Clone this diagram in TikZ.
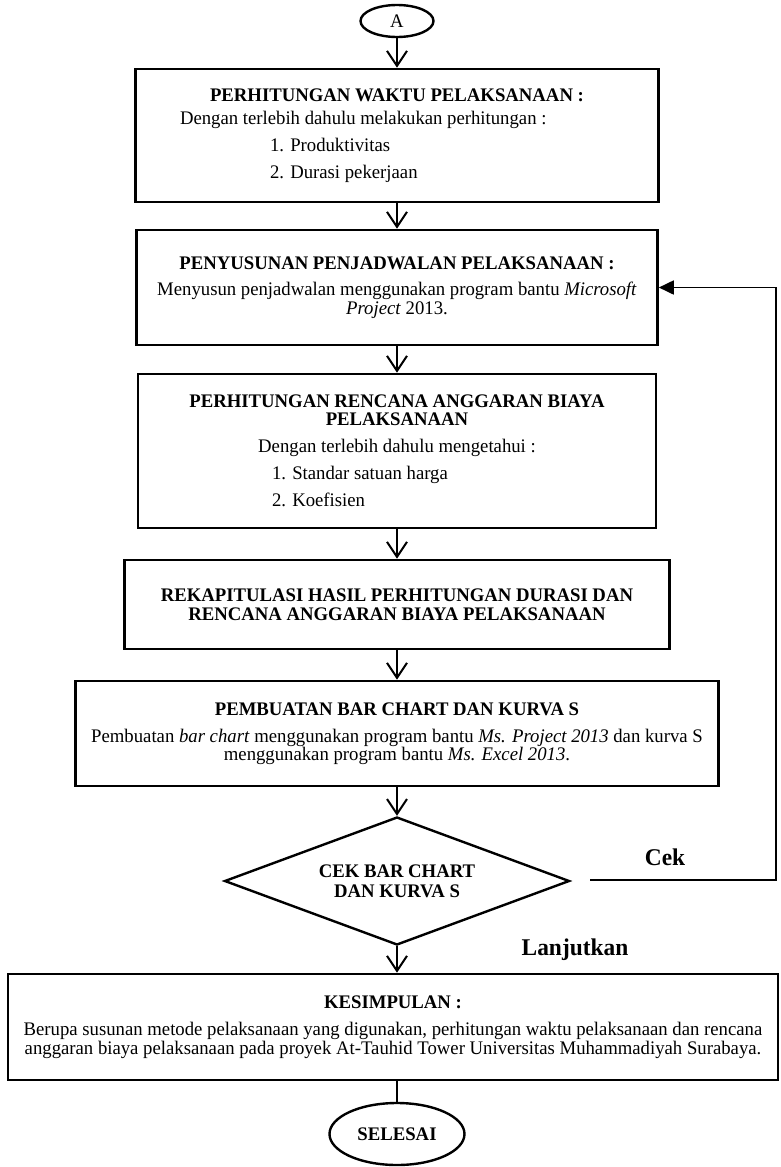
\documentclass[tikz,border=0pt]{standalone}
\usepackage{fontspec}
\setmainfont[FakeStretch=0.975]{Liberation Serif}
\usetikzlibrary{shapes.geometric,arrows.meta}

\begin{document}
\begin{tikzpicture}[x=1pt,y=-1pt,
    every node/.style={font=\fontsize{19.2}{18.5}\selectfont},
    boite/.style={draw, line width=2.6pt, align=center, inner sep=0pt,
      execute at begin node=\rule{0pt}{21pt}},
    ovale/.style={draw, ellipse, line width=2.4pt, inner sep=0pt},
    losange/.style={draw, diamond, aspect=2.7, line width=2.4pt, align=center, inner sep=0pt},
    fleche/.style={line width=2pt, -{Straight Barb[length=15pt,width=20pt]}},
    retour/.style={line width=1.8pt, -{Triangle[length=15pt,width=14pt]}},
    etiquette/.style={font=\fontsize{24}{26}\selectfont\bfseries}]
% cadre de la page : 780 x 1167
\useasboundingbox (0,0) rectangle (780,1167);

\node[ovale, minimum width=73, minimum height=32] (debut) at (397,21) {A};

\node[boite, minimum width=523, minimum height=133] (waktu) at (397,135.5)
  {\textbf{PERHITUNGAN WAKTU PELAKSANAAN :}\\[4.5pt]
   \makebox[434pt][l]{Dengan terlebih dahulu melakukan perhitungan :}\\[8.5pt]
   \makebox[254pt][l]{1. Produktivitas}\\[8.5pt]
   \makebox[254pt][l]{2. Durasi pekerjaan}};

\node[boite, minimum width=521, minimum height=115] (jadwal) at (397,287.5)
  {\textbf{PENYUSUNAN PENJADWALAN PELAKSANAAN :}\\[7.5pt]
   Menyusun penjadwalan menggunakan program bantu \textit{Microsoft}\\
   \textit{Project} 2013.};

\node[boite, minimum width=518, minimum height=154] (biaya) at (397,451)
  {\textbf{PERHITUNGAN RENCANA ANGGARAN BIAYA}\\
   \textbf{PELAKSANAAN}\\[8.5pt]
   Dengan terlebih dahulu mengetahui :\\[8.5pt]
   \makebox[250pt][l]{1. Standar satuan harga}\\[8.5pt]
   \makebox[250pt][l]{2. Koefisien}};

\node[boite, minimum width=545, minimum height=89] (rekap) at (397,604.5)
  {\textbf{REKAPITULASI HASIL PERHITUNGAN DURASI DAN}\\
   \textbf{RENCANA ANGGARAN BIAYA PELAKSANAAN}};

\node[boite, minimum width=643, minimum height=105] (kurva) at (397,733.5)
  {\textbf{PEMBUATAN BAR CHART DAN KURVA S}\\[8.5pt]
   Pembuatan \textit{bar chart} menggunakan program bantu \textit{Ms. Project 2013} dan kurva S\\
   menggunakan program bantu \textit{Ms. Excel 2013}.};

\node[losange, minimum width=345, minimum height=128] (cek) at (397,881)
  {\textbf{CEK BAR CHART}\\[1.5pt] \textbf{DAN KURVA S}};

\node[boite, minimum width=770, minimum height=106] (simpul) at (393,1027)
  {\textbf{KESIMPULAN :}\\[8.5pt]
   Berupa susunan metode pelaksanaan yang digunakan, perhitungan waktu pelaksanaan dan rencana\\
   anggaran biaya pelaksanaan pada proyek At-Tauhid Tower Universitas Muhammadiyah Surabaya.};

\node[ovale, minimum width=135, minimum height=62] (selesai) at (397,1134) {\textbf{SELESAI}};

% fleches
\draw[fleche] (debut) -- (waktu);
\draw[fleche] (waktu) -- (jadwal);
\draw[fleche] (jadwal) -- (biaya);
\draw[fleche] (biaya) -- (rekap);
\draw[fleche] (rekap) -- (kurva);
\draw[fleche] (kurva) -- (cek);
\draw[fleche] (cek.south) -- (cek.south |- simpul.north);
\draw[line width=2pt] (selesai.north |- simpul.south) -- (selesai);

% boucle de verification
\coordinate (depart) at (590,880);
\draw[retour] (depart) -- (776,880) |- (jadwal.east);
\node[etiquette] (lcek) at (665,857) {Cek};
\node[etiquette] (lanjut) at (575,950) {Lanjutkan};
\end{tikzpicture}
\end{document}
